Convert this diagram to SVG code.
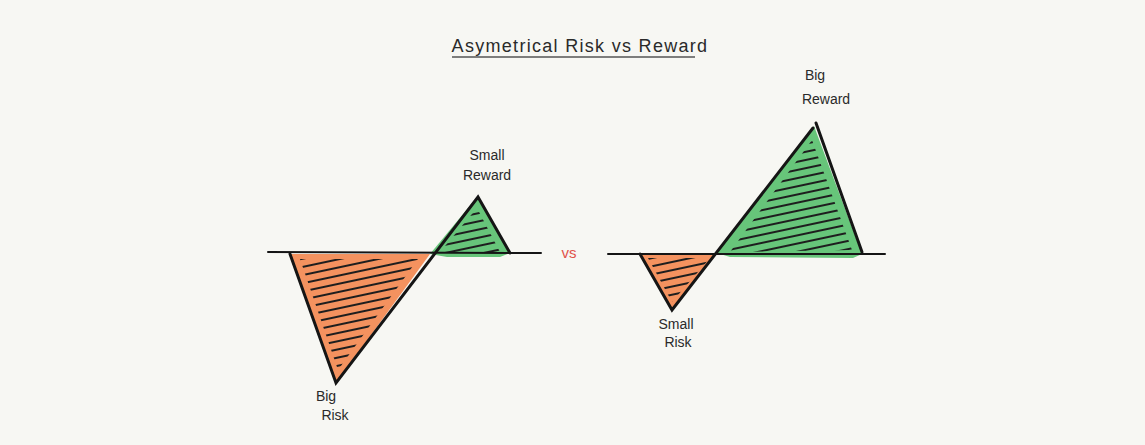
<svg xmlns="http://www.w3.org/2000/svg" width="1145" height="445" viewBox="0 0 1145 445">
<style>
.lbl{font-family:"Liberation Sans","DejaVu Sans",sans-serif;font-size:14px;fill:#2a2a2a;text-anchor:middle}
.title{font-family:"Liberation Sans","DejaVu Sans",sans-serif;font-size:18px;letter-spacing:1.3px;fill:#2a2a2a;text-anchor:middle}
.edge{stroke:#151515;stroke-width:3;stroke-linecap:round;fill:none}
.axis{stroke:#151515;stroke-width:2;stroke-linecap:round;fill:none}
.orange{fill:#f4925f}
.green{fill:#67c57a}
</style>
<defs>
<pattern id="hatch" patternUnits="userSpaceOnUse" width="40" height="8" patternTransform="rotate(-12)">
<line x1="0" y1="4" x2="40" y2="4" stroke="#1e1e1e" stroke-width="2.2"/>
</pattern>
<clipPath id="c1"><polygon points="300,259 418,259 338,370"/></clipPath>
<clipPath id="c2"><polygon points="440,252 477,208 500,252"/></clipPath>
<clipPath id="c3"><polygon points="648,258 710,258 672,302"/></clipPath>
<clipPath id="c4"><polygon points="730,252 812,140 852,250"/></clipPath>
</defs>
<rect width="1145" height="445" fill="#f7f7f3"/>
<g id="title">
<text class="title" x="580" y="52">Asymetrical Risk vs Reward</text>
<line x1="452" y1="57" x2="695" y2="57" stroke="#555" stroke-width="1.5"/>
</g>
<g id="left-chart">
<polygon class="orange" points="289,254 430,254 336,383"/>
<polygon class="green" points="430,254 478,196 510,253 500,257 447,257"/>
<rect x="280" y="250" width="160" height="140" fill="url(#hatch)" clip-path="url(#c1)"/>
<rect x="430" y="190" width="90" height="70" fill="url(#hatch)" clip-path="url(#c2)"/>
<line class="axis" x1="268" y1="252" x2="541" y2="253"/>
<polyline class="edge" points="290,254 336,383 478,197 510,253"/>
</g>
<g id="right-chart">
<polygon class="orange" points="640,254 717,253 672,310"/>
<polygon class="green" points="717,253 814,126 862,254 853,258 730,257"/>
<rect x="630" y="250" width="100" height="70" fill="url(#hatch)" clip-path="url(#c3)"/>
<rect x="710" y="120" width="160" height="140" fill="url(#hatch)" clip-path="url(#c4)"/>
<line class="axis" x1="608" y1="254" x2="885" y2="254"/>
<polyline class="edge" points="640,254 672,310 813,128"/>
<line class="edge" x1="816" y1="123" x2="862" y2="252"/>
</g>
<g id="label-small-reward"><text class="lbl" x="487" y="160">Small</text><text class="lbl" x="487" y="180">Reward</text></g>
<g id="label-big-risk"><text class="lbl" x="326" y="401">Big</text><text class="lbl" x="335" y="420">Risk</text></g>
<g id="label-vs"><text x="569" y="258" font-family="Liberation Sans,sans-serif" font-size="15" fill="#e0524a" text-anchor="middle">vs</text></g>
<g id="label-big-reward"><text class="lbl" x="815" y="80">Big</text><text class="lbl" x="826" y="104">Reward</text></g>
<g id="label-small-risk"><text class="lbl" x="676" y="329">Small</text><text class="lbl" x="678" y="347">Risk</text></g>
</svg>
